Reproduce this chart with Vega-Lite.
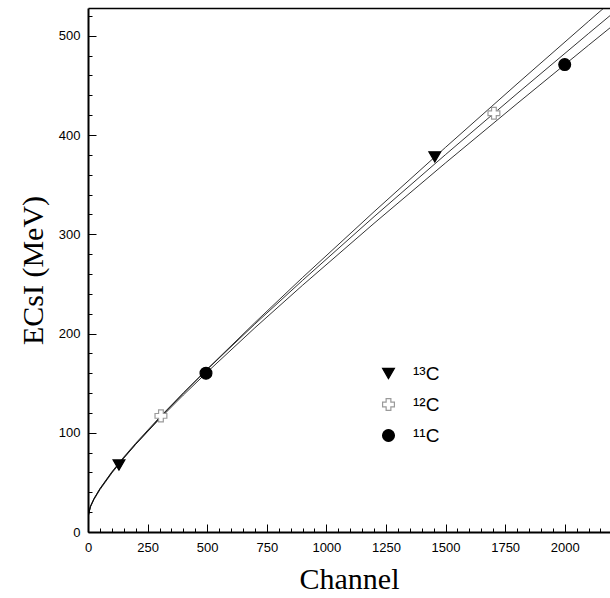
{
  "$schema": "https://vega.github.io/schema/vega-lite/v6.json",
  "width": 522,
  "height": 524,
  "autosize": {"type": "none"},
  "padding": {"left": 88, "top": 8, "right": 0, "bottom": 66},
  "background": "white",
  "config": {
    "view": {"stroke": null},
    "axis": {
      "grid": false,
      "domainColor": "black",
      "domainWidth": 2,
      "tickColor": "black",
      "tickWidth": 1,
      "labelFont": "Liberation Sans",
      "labelFontSize": 13,
      "labelColor": "black",
      "labelFlush": false,
      "labelOverlap": false,
      "titleFont": "Liberation Serif",
      "titleFontSize": 30,
      "titleFontWeight": "normal",
      "titleColor": "black"
    },
    "axisY": {"labelOverlap": false},
    "legend": {
      "labelFont": "Liberation Sans",
      "labelFontSize": 19,
      "labelColor": "black",
      "symbolSize": 140,
      "symbolStrokeWidth": 1.2,
      "rowPadding": 11,
      "labelOffset": 15,
      "padding": 0
    }
  },
  "datasets": {
    "curves": [
      {"iso": "13C", "ch": 0, "E": 15},
      {"iso": "13C", "ch": 10, "E": 25.1},
      {"iso": "13C", "ch": 25, "E": 32.7},
      {"iso": "13C", "ch": 50, "E": 42.6},
      {"iso": "13C", "ch": 100, "E": 59.4},
      {"iso": "13C", "ch": 150, "E": 74.3},
      {"iso": "13C", "ch": 200, "E": 88.3},
      {"iso": "13C", "ch": 300, "E": 114.7},
      {"iso": "13C", "ch": 400, "E": 139.8},
      {"iso": "13C", "ch": 500, "E": 164.1},
      {"iso": "13C", "ch": 700, "E": 210.9},
      {"iso": "13C", "ch": 900, "E": 256.4},
      {"iso": "13C", "ch": 1200, "E": 322.7},
      {"iso": "13C", "ch": 1500, "E": 387.6},
      {"iso": "13C", "ch": 1800, "E": 451.5},
      {"iso": "13C", "ch": 2100, "E": 514.6},
      {"iso": "13C", "ch": 2190, "E": 533.4},
      {"iso": "12C", "ch": 0, "E": 15},
      {"iso": "12C", "ch": 10, "E": 25.8},
      {"iso": "12C", "ch": 25, "E": 33.6},
      {"iso": "12C", "ch": 50, "E": 43.7},
      {"iso": "12C", "ch": 100, "E": 60.6},
      {"iso": "12C", "ch": 150, "E": 75.5},
      {"iso": "12C", "ch": 200, "E": 89.4},
      {"iso": "12C", "ch": 300, "E": 115.5},
      {"iso": "12C", "ch": 400, "E": 140.1},
      {"iso": "12C", "ch": 500, "E": 163.8},
      {"iso": "12C", "ch": 700, "E": 209.5},
      {"iso": "12C", "ch": 900, "E": 253.5},
      {"iso": "12C", "ch": 1200, "E": 317.7},
      {"iso": "12C", "ch": 1500, "E": 380.3},
      {"iso": "12C", "ch": 1800, "E": 441.7},
      {"iso": "12C", "ch": 2100, "E": 502.3},
      {"iso": "12C", "ch": 2190, "E": 520.3},
      {"iso": "11C", "ch": 0, "E": 15},
      {"iso": "11C", "ch": 10, "E": 25.7},
      {"iso": "11C", "ch": 25, "E": 33.5},
      {"iso": "11C", "ch": 50, "E": 43.5},
      {"iso": "11C", "ch": 100, "E": 60.1},
      {"iso": "11C", "ch": 150, "E": 74.8},
      {"iso": "11C", "ch": 200, "E": 88.4},
      {"iso": "11C", "ch": 300, "E": 113.9},
      {"iso": "11C", "ch": 400, "E": 138.0},
      {"iso": "11C", "ch": 500, "E": 161.1},
      {"iso": "11C", "ch": 700, "E": 205.7},
      {"iso": "11C", "ch": 900, "E": 248.6},
      {"iso": "11C", "ch": 1200, "E": 311.0},
      {"iso": "11C", "ch": 1500, "E": 371.9},
      {"iso": "11C", "ch": 1800, "E": 431.6},
      {"iso": "11C", "ch": 2100, "E": 490.5},
      {"iso": "11C", "ch": 2190, "E": 508.0}
    ],
    "points": [
      {"iso": "¹³C", "ch": 130, "E": 67.5},
      {"iso": "¹³C", "ch": 1455, "E": 378},
      {"iso": "¹²C", "ch": 306, "E": 117},
      {"iso": "¹²C", "ch": 1703, "E": 422},
      {"iso": "¹¹C", "ch": 495, "E": 160},
      {"iso": "¹¹C", "ch": 2000, "E": 471}
    ]
  },
  "layer": [
    {
      "data": {"name": "curves"},
      "mark": {"type": "line", "color": "black", "strokeWidth": 0.8, "clip": true},
      "encoding": {
        "x": {
          "field": "ch",
          "type": "quantitative",
          "scale": {"domain": [0, 2190], "nice": false, "zero": false},
          "axis": {
            "orient": "bottom",
            "values": [0, 50, 100, 150, 200, 250, 300, 350, 400, 450, 500, 550, 600, 650, 700, 750, 800, 850, 900, 950, 1000, 1050, 1100, 1150, 1200, 1250, 1300, 1350, 1400, 1450, 1500, 1550, 1600, 1650, 1700, 1750, 1800, 1850, 1900, 1950, 2000, 2050, 2100, 2150],
            "format": "d",
            "labelOverlap": false,
            "labelExpr": "datum.value % 250 === 0 ? datum.label : ''",
            "tickSize": {"condition": {"test": "datum.value % 250 === 0", "value": -8}, "value": -4},
            "labelPadding": 17,
            "title": "Channel",
            "titleBaseline": "alphabetic",
            "titleY": 56
          }
        },
        "y": {
          "field": "E",
          "type": "quantitative",
          "scale": {"domain": [0, 528], "nice": false, "zero": false},
          "axis": {
            "values": [0, 20, 40, 60, 80, 100, 120, 140, 160, 180, 200, 220, 240, 260, 280, 300, 320, 340, 360, 380, 400, 420, 440, 460, 480, 500, 520],
            "format": "d",
            "labelOverlap": false,
            "labelExpr": "datum.value % 100 === 0 ? datum.label : ''",
            "tickSize": {"condition": {"test": "datum.value % 100 === 0", "value": -8}, "value": -4},
            "labelPadding": 16,
            "title": "ECsI (MeV)",
            "titleAngle": -90,
            "titleBaseline": "alphabetic",
            "titleAlign": "center",
            "titleX": -46,
            "titleY": 262
          }
        },
        "detail": {"field": "iso"}
      }
    },
    {
      "data": {"name": "points"},
      "mark": {"type": "point", "opacity": 1, "size": 140, "strokeWidth": 1.2},
      "encoding": {
        "x": {
          "field": "ch",
          "type": "quantitative",
          "axis": {"orient": "top", "labels": false, "ticks": false, "title": null, "domainWidth": 1.5}
        },
        "y": {
          "field": "E",
          "type": "quantitative",
          "axis": {
            "values": [0, 20, 40, 60, 80, 100, 120, 140, 160, 180, 200, 220, 240, 260, 280, 300, 320, 340, 360, 380, 400, 420, 440, 460, 480, 500, 520],
            "format": "d",
            "labelOverlap": false,
            "labelExpr": "datum.value % 100 === 0 ? datum.label : ''",
            "tickSize": {"condition": {"test": "datum.value % 100 === 0", "value": -8}, "value": -4},
            "labelPadding": 16,
            "title": "ECsI (MeV)",
            "titleAngle": -90,
            "titleBaseline": "alphabetic",
            "titleAlign": "center",
            "titleX": -46,
            "titleY": 262
          }
        },
        "shape": {
          "field": "iso",
          "type": "nominal",
          "title": null,
          "scale": {"domain": ["¹³C", "¹²C", "¹¹C"], "range": ["triangle-down", "cross", "circle"]},
          "legend": {"orient": "none", "legendX": 291, "legendY": 356}
        },
        "fill": {
          "field": "iso",
          "type": "nominal",
          "title": null,
          "scale": {"domain": ["¹³C", "¹²C", "¹¹C"], "range": ["black", "white", "black"]},
          "legend": {"orient": "none", "legendX": 291, "legendY": 356}
        },
        "stroke": {
          "field": "iso",
          "type": "nominal",
          "title": null,
          "scale": {"domain": ["¹³C", "¹²C", "¹¹C"], "range": ["black", "#9a9a9a", "black"]},
          "legend": {"orient": "none", "legendX": 291, "legendY": 356}
        }
      }
    }
  ],
  "resolve": {"axis": {"x": "independent"}}
}
